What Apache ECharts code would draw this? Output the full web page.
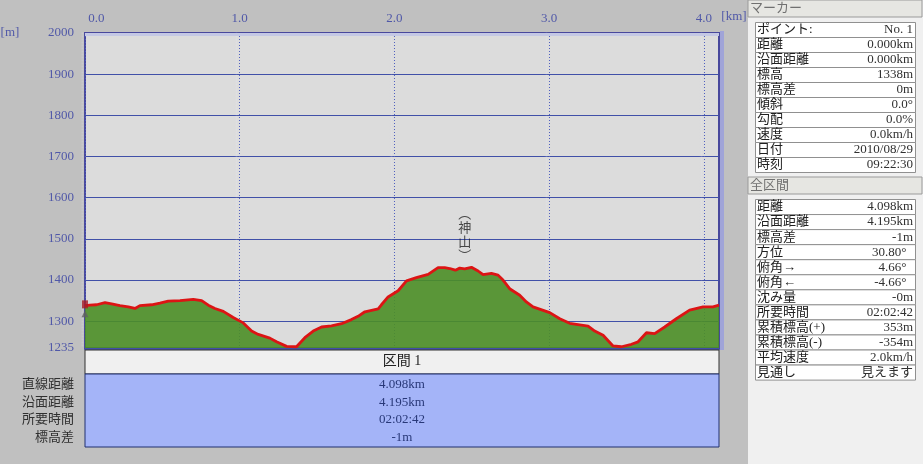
<!DOCTYPE html>
<html><head><meta charset="utf-8">
<style>html,body{margin:0;padding:0;background:#c0c0c0}#c{width:923px;height:464px}</style>
<script src="https://cdn.jsdelivr.net/npm/echarts@6/dist/echarts.min.js"></script>
</head><body><div id="c"></div>
<script>
const distanceKm=[0,0.032,0.075,0.129,0.172,0.226,0.280,0.323,0.355,0.431,0.484,0.538,0.614,0.700,0.754,0.797,0.840,0.894,0.958,1.023,1.077,1.120,1.195,1.238,1.303,1.367,1.421,1.475,1.529,1.593,1.658,1.722,1.765,1.809,1.895,1.916,1.959,2.024,2.078,2.142,2.218,2.282,2.325,2.358,2.394,2.422,2.454,2.498,2.541,2.573,2.627,2.670,2.702,2.745,2.810,2.853,2.896,3.004,3.069,3.133,3.252,3.295,3.349,3.413,3.467,3.532,3.575,3.629,3.682,3.747,3.822,3.908,3.995,4.059,4.098];
const elevationM=[1338,1339,1340,1345,1342,1338,1335,1331,1338,1340,1344,1349,1350,1353,1350,1339,1331,1324,1309,1296,1276,1268,1259,1250,1239,1238,1260,1276,1286,1289,1294,1304,1312,1323,1330,1340,1359,1374,1398,1406,1414,1430,1430,1428,1424,1429,1427,1431,1422,1413,1416,1412,1400,1379,1363,1347,1335,1321,1306,1295,1288,1276,1266,1240,1238,1244,1250,1272,1270,1286,1306,1327,1335,1335,1339];
const xTicks=[0,1,2,3,4];
const yTicks=[1235,1300,1400,1500,1600,1700,1800,1900,2000];
const peakPoint=[2.454,1431];
const peakName='︵\n神\n山\n︶';
const startFlagKm=[0,0];
const startFlagM=[1341,1318];
const markerTitle='マーカー';
const markerLabels=['ポイント:','距離','沿面距離','標高','標高差','傾斜','勾配','速度','日付','時刻'];
const markerValues=['No. 1','0.000km','0.000km','1338m','0m','0.0°','0.0%','0.0km/h','2010/08/29','09:22:30'];
const rangeTitle='全区間';
const rangeLabels=['距離','沿面距離','標高差','方位','俯角→','俯角←','沈み量','所要時間','累積標高(+)','累積標高(-)','平均速度','見通し'];
const rangeValues=['4.098km','4.195km','-1m','30.80°\u00a0\u00a0','4.66°\u00a0\u00a0','-4.66°\u00a0\u00a0','-0m','02:02:42','353m','-354m','2.0km/h','見えます'];
const sectionTitle='区間 1';
const sectionLabels=['直線距離','沿面距離','所要時間','標高差'];
const sectionValues=['4.098km','4.195km','02:02:42','-1m'];

const F='"Liberation Serif","Noto Sans CJK JP"';
const font=(s)=>s+'px '+F;
const AX='#5058a8';
const g=[];
function rect(x,y,w,h,fill,stroke,z){g.push({type:'rect',silent:true,z:z==null?-1:z,shape:{x,y,width:w,height:h},style:{fill:fill,stroke:stroke||null,lineWidth:stroke?1:0}});}
function text(t,x,y,align,size,fill,z){g.push({type:'text',silent:true,z:z==null?5:z,x:0,y:0,style:{text:t,x,y,align,verticalAlign:'middle',font:font(size),fill}});}

// right panel
rect(748,0,175,464,'#f0f0f0');
rect(748,0,174,17,'#e6e6e2','#9a9a9a');
text(markerTitle,750,9,'left',13,'#707070');
rect(748,177,174,17,'#e6e6e2','#9a9a9a');
text(rangeTitle,750,186,'left',13,'#707070');
function table(top,rowH,labels,values){
  labels.forEach((l,i)=>{
    const y=top+i*rowH;
    rect(755.5,y,160,rowH,'#ffffff','#909090');
    text(l,757,y+rowH/2,'left',13,'#202020');
    text(values[i],913,y+rowH/2,'right',13,'#303030');
  });
}
table(22.5,15,markerLabels,markerValues);
table(199.5,15.05,rangeLabels,rangeValues);

// plot decorations
rect(85,33,634,3,'#c4c8e4',null,1);
rect(720,31,4,319,'#a0a4d8',null,-1);
rect(84,348,636,2,'#5058a8',null,-1);

// section table
rect(85,350,634,24,'#f0f0f0','#303030');
text(sectionTitle,402,361,'center',14,'#202020');
rect(85,374,634,73,'#a4b4f8','#203070');
sectionLabels.forEach((l,i)=>{
  const y=384.5+i*17.6;
  text(l,74,y,'right',13,'#303030');
  text(sectionValues[i],402,y,'center',13,'#283878');
});
// axis unit labels
text('[m]',10,33,'center',13,AX);
text('[km]',734,17,'center',13,AX);

const chart=echarts.init(document.getElementById('c'),null,{renderer:'canvas'});
chart.setOption({
  animation:false,
  backgroundColor:'#c0c0c0',
  grid:{left:85,top:33,width:634,height:315,show:true,backgroundColor:'#dcdcdc',borderColor:'#48489c',borderWidth:2},
  xAxis:{type:'value',position:'top',min:0,max:4.098,
    axisLine:{show:false},
    axisTick:{show:false,customValues:xTicks},
    axisLabel:{customValues:xTicks,margin:8,color:AX,fontFamily:F,fontSize:13,alignMinLabel:'left',formatter:v=>(v===0?' ':'')+Number(v).toFixed(1)},
    splitLine:{show:true,lineStyle:{color:'#5060c0',type:[1,2],width:1,shadowColor:'rgba(235,238,255,0.9)',shadowOffsetX:-3,shadowBlur:2}}},
  yAxis:{type:'value',min:1235,max:2000,
    axisLine:{show:false},
    axisTick:{show:false,customValues:yTicks},
    axisLabel:{customValues:yTicks,margin:11,color:AX,fontFamily:F,fontSize:13,showMinLabel:true,showMaxLabel:true,formatter:v=>String(v)},
    splitLine:{show:true,lineStyle:{color:'#4050a8',width:1}}},
  graphic:{elements:g},
  series:[
    {type:'line',data:distanceKm.map((d,i)=>[d,elevationM[i]]),showSymbol:false,symbol:'none',z:3,
      lineStyle:{color:'#dc1414',width:2.8},
      areaStyle:{color:'#4b8e26',opacity:0.9}},
    {type:'scatter',data:[[startFlagKm[0],startFlagM[0]]],symbol:'rect',symbolSize:[6,8],itemStyle:{color:'#a81c24'},z:4,clip:false},
    {type:'scatter',data:[[startFlagKm[1],startFlagM[1]]],symbol:'triangle',symbolSize:[7,7],itemStyle:{color:'#606060'},z:4,clip:false},
    {type:'scatter',data:[peakPoint],symbolSize:0,z:4,
      label:{show:true,position:'top',distance:5,formatter:peakName,fontFamily:'"Noto Sans CJK JP"',fontSize:13,lineHeight:14,color:'#202020',align:'center'}}
  ]
});
</script></body></html>
